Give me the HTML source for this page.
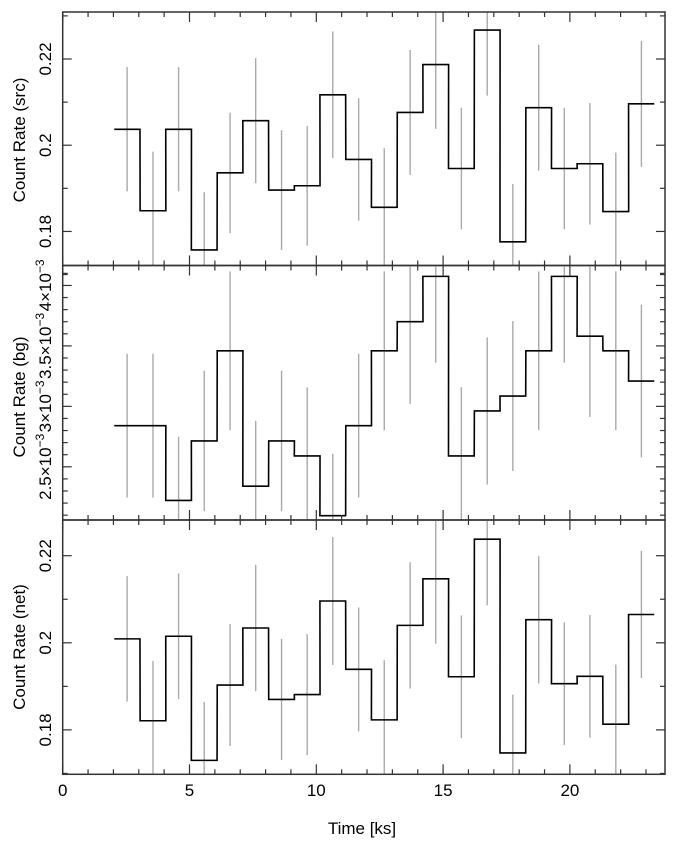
<!DOCTYPE html>
<html><head><meta charset="utf-8"><style>
html,body{margin:0;padding:0;background:#fff;}
svg{display:block;font-family:"Liberation Sans",Arial,sans-serif;}
</style></head><body>
<svg id="chart" width="676" height="846" viewBox="0 0 676 846" xmlns="http://www.w3.org/2000/svg">
<defs>
<clipPath id="c1"><rect x="62.7" y="12" width="602.3" height="253.5"/></clipPath>
<clipPath id="c2"><rect x="62.7" y="265.5" width="602.3" height="254.5"/></clipPath>
<clipPath id="c3"><rect x="62.7" y="520" width="602.3" height="254.3"/></clipPath>
</defs>
<g id="root"></g>
<text x="362" y="834" font-size="17" text-anchor="middle" fill="#000">Time [ks]</text>
</svg>
<script>
var times = [2.54,3.56,4.57,5.58,6.60,7.61,8.63,9.64,10.65,11.67,12.68,13.70,14.71,15.72,16.74,17.75,18.77,19.78,20.79,21.81,22.82];
var halfWidth = 0.507;
var srcRate = [0.2037,0.1848,0.2037,0.1757,0.1936,0.2057,0.1896,0.1906,0.2117,0.1967,0.1856,0.2076,0.2187,0.1946,0.2267,0.1776,0.2087,0.1946,0.1957,0.1846,0.2096];
var srcErr = [0.0144,0.0137,0.0144,0.0134,0.0140,0.0145,0.0139,0.0139,0.0147,0.0142,0.0137,0.0145,0.0149,0.0141,0.0152,0.0134,0.0146,0.0141,0.0141,0.0137,0.0146];
var bgRate = [2.840e-3,2.840e-3,2.222e-3,2.714e-3,3.459e-3,2.340e-3,2.714e-3,2.590e-3,2.096e-3,2.840e-3,3.459e-3,3.700e-3,4.075e-3,2.590e-3,2.962e-3,3.085e-3,3.459e-3,4.075e-3,3.580e-3,3.459e-3,3.209e-3];
var bgErr = [0.595e-3,0.595e-3,0.526e-3,0.582e-3,0.657e-3,0.540e-3,0.582e-3,0.568e-3,0.511e-3,0.595e-3,0.657e-3,0.679e-3,0.713e-3,0.568e-3,0.608e-3,0.620e-3,0.657e-3,0.713e-3,0.668e-3,0.657e-3,0.632e-3];
var netRate = [0.2009,0.1821,0.2015,0.1730,0.1903,0.2034,0.1870,0.1881,0.2096,0.1939,0.1823,0.2040,0.2147,0.1922,0.2238,0.1747,0.2053,0.1906,0.1923,0.1813,0.2065];
var netErr = [0.0144,0.0137,0.0144,0.0134,0.0140,0.0145,0.0139,0.0139,0.0147,0.0142,0.0137,0.0145,0.0149,0.0141,0.0152,0.0134,0.0146,0.0141,0.0141,0.0137,0.0146];
var xTickLabels = ["0","5","10","15","20"];
var srcTickLabels = ["0.18","0.2","0.22"];
var bgTickLabels = ["2.5","3","3.5","4"];
var netTickLabels = ["0.18","0.2","0.22"];

var NS = "http://www.w3.org/2000/svg";
var root = document.getElementById('root');
var X0 = 62.7, X1 = 665, T0 = 0, T1 = (665-62.7)/25.36;
function xs(t){ return X0 + (t - T0) * 25.36; }
function mk(tag, attrs, parent){ var e = document.createElementNS(NS, tag); for (var k in attrs) e.setAttribute(k, attrs[k]); (parent||root).appendChild(e); return e; }

var panels = [
  {key:'src', title:'Count Rate (src)', top:12, bot:265.5, vmin:0.1721, vmax:0.2309, rate:srcRate, err:srcErr, clip:'c1',
   major:[0.18,0.20,0.22], minor:[0.17,0.19,0.21,0.23], labels:srcTickLabels, sci:false, titleY:140},
  {key:'bg', title:'Count Rate (bg)', top:265.5, bot:520, vmin:2.06e-3, vmax:4.165e-3, rate:bgRate, err:bgErr, clip:'c2',
   major:[2.5e-3,3e-3,3.5e-3,4e-3], minor:[], labels:bgTickLabels, sci:true, titleY:397},
  {key:'net', title:'Count Rate (net)', top:520, bot:774.3, vmin:0.1698, vmax:0.2282, rate:netRate, err:netErr, clip:'c3',
   major:[0.18,0.20,0.22], minor:[0.17,0.19,0.21], labels:netTickLabels, sci:false, titleY:647}
];
for (var m = 21; m <= 41; m++){ if (m % 5 !== 0) panels[1].minor.push(m*1e-4); }

panels.forEach(function(p, pi){
  function ys(v){ return p.bot - (v - p.vmin) / (p.vmax - p.vmin) * (p.bot - p.top); }
  var g = mk('g', {});
  
  
  // error bars
  var eg = mk('g', {'clip-path':'url(#'+p.clip+')'}, g);
  for (var i = 0; i < times.length; i++){
    var eb = mk('line', {x1:xs(times[i]), x2:xs(times[i]), y1:ys(p.rate[i]-p.err[i]), y2:ys(p.rate[i]+p.err[i]), stroke:'#aaaaaa', 'stroke-width':1.4}, eg);
    
    
  }
  // step line
  var d = '';
  for (var i = 0; i < times.length; i++){
    var xl = xs(times[i]-halfWidth), xr = xs(times[i]+halfWidth), y = ys(p.rate[i]);
    d += (i === 0 ? 'M' : 'L') + xl.toFixed(2) + ',' + y.toFixed(2) + 'L' + xr.toFixed(2) + ',' + y.toFixed(2);
  }
  var st = mk('path', {d:d, fill:'none', stroke:'#000', 'stroke-width':1.6, 'clip-path':'url(#'+p.clip+')'}, g);
  
  
  // frame
  var fr = mk('rect', {x:X0, y:p.top, width:X1-X0, height:p.bot-p.top, fill:'none', stroke:'#333', 'stroke-width':1.5}, g);
  
  
  // x ticks top and bottom
  for (var t = 0; t <= Math.floor(T1); t++){
    var len = (t % 5 === 0) ? 10 : 5, x = xs(t);
    mk('line', {x1:x, x2:x, y1:p.bot, y2:p.bot-len, stroke:'#333', 'stroke-width':1.2}, g);
    mk('line', {x1:x, x2:x, y1:p.top, y2:p.top+len, stroke:'#333', 'stroke-width':1.2}, g);
  }
  // y ticks
  p.major.forEach(function(v){ var y = ys(v);
    mk('line', {x1:X0, x2:X0+9, y1:y, y2:y, stroke:'#333', 'stroke-width':1.2}, g);
    mk('line', {x1:X1, x2:X1-9, y1:y, y2:y, stroke:'#333', 'stroke-width':1.2}, g); });
  p.minor.forEach(function(v){ var y = ys(v);
    mk('line', {x1:X0, x2:X0+5, y1:y, y2:y, stroke:'#333', 'stroke-width':1.2}, g);
    mk('line', {x1:X1, x2:X1-5, y1:y, y2:y, stroke:'#333', 'stroke-width':1.2}, g); });
  // y tick labels
  p.major.forEach(function(v, k){
    var y = ys(v);
    var tx = mk('text', {x:0, y:0, transform:'translate(51,'+y.toFixed(1)+') rotate(-90)', 'font-size':17, 'text-anchor':'middle', fill:'#000'}, g);
    
    
    if (p.sci){
      tx.textContent = p.labels[k] + '\u00d710';
      var sp = mk('tspan', {dy:-7, 'font-size':12}, tx); sp.textContent = '\u22123';
    } else tx.textContent = p.labels[k];
  });
  // y title
  var yt = mk('text', {x:0, y:0, transform:'translate(25,'+p.titleY+') rotate(-90)', 'font-size':17, 'text-anchor':'middle', fill:'#000'}, g);
  
  
  yt.textContent = p.title;
  // x tick labels on bottom panel
  if (pi === 2){
    xTickLabels.forEach(function(l, k){
      var xl = mk('text', {x:xs(k*5), y:796, 'font-size':17, 'text-anchor':'middle', fill:'#000'}, g);
      
      
      xl.textContent = l;
    });
  }
});
</script>
</body></html>
